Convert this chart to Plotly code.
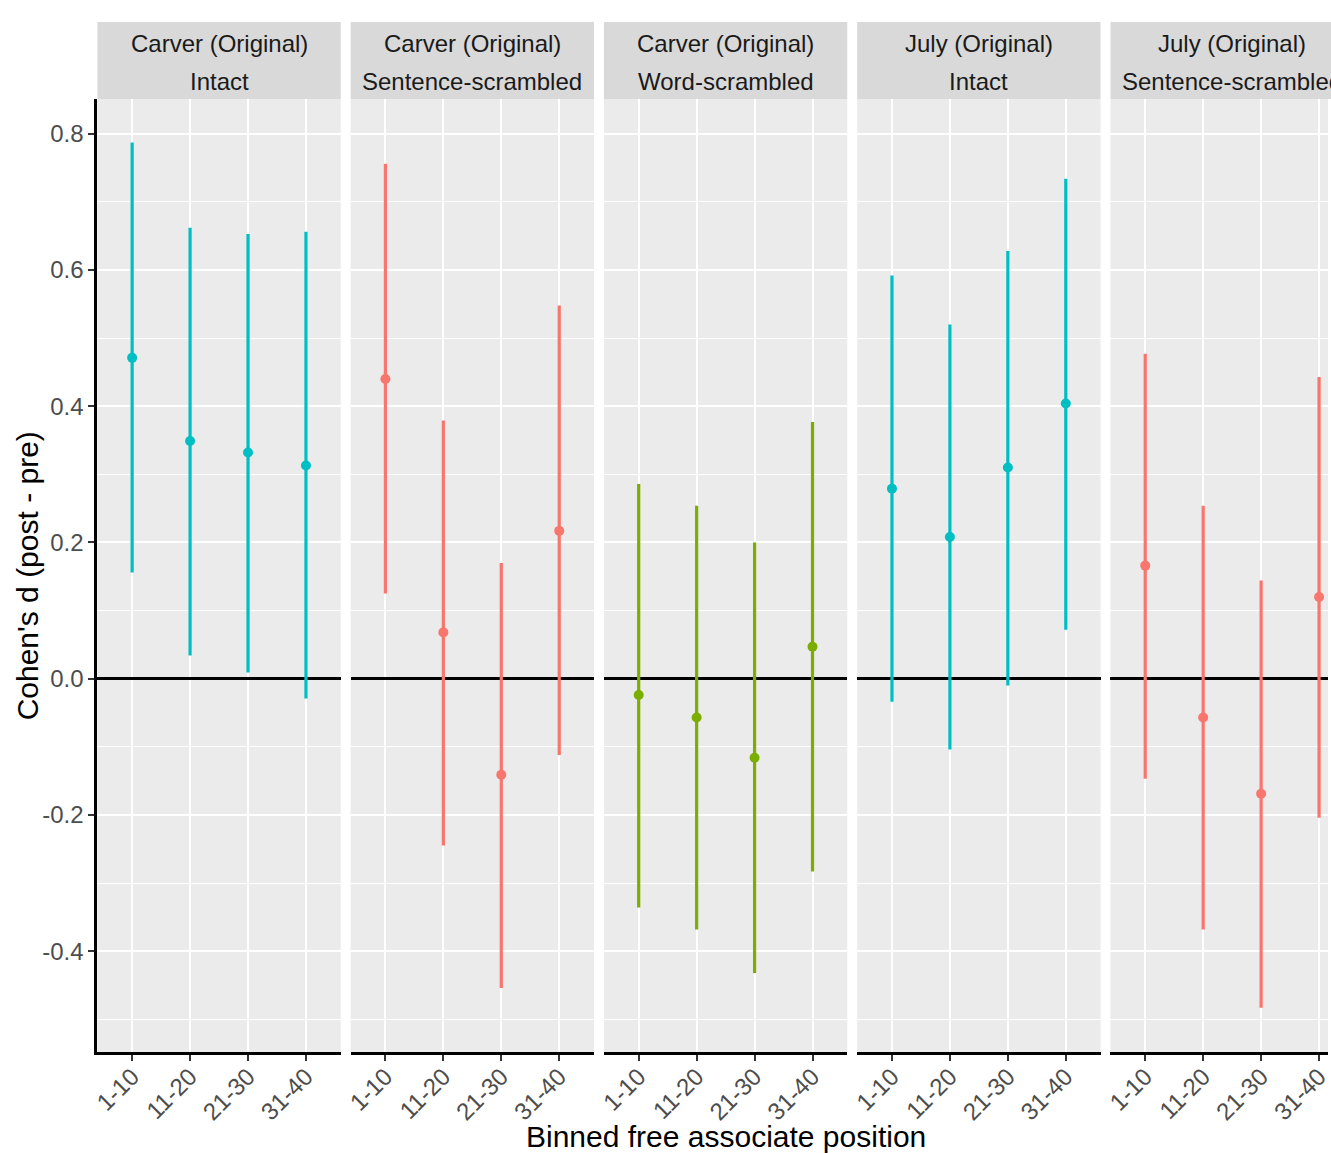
import plotly.graph_objects as go

W, H = 1331, 1153

categories = ["1-10", "11-20", "21-30", "31-40"]
strip_top = ["Carver (Original)", "Carver (Original)", "Carver (Original)", "July (Original)", "July (Original)"]
strip_bottom = ["Intact", "Sentence-scrambled", "Word-scrambled", "Intact", "Sentence-scrambled"]
panel_colors = ["#00BFC4", "#F8766D", "#7CAE00", "#00BFC4", "#F8766D"]

estimate = [
    [0.471, 0.349, 0.332, 0.313],
    [0.440, 0.068, -0.141, 0.217],
    [-0.024, -0.057, -0.116, 0.047],
    [0.279, 0.208, 0.310, 0.404],
    [0.166, -0.057, -0.169, 0.120],
]
upper = [
    [0.787, 0.662, 0.653, 0.656],
    [0.756, 0.379, 0.170, 0.548],
    [0.286, 0.254, 0.200, 0.377],
    [0.592, 0.520, 0.628, 0.734],
    [0.477, 0.254, 0.144, 0.443],
]
lower = [
    [0.156, 0.034, 0.009, -0.029],
    [0.125, -0.245, -0.454, -0.112],
    [-0.336, -0.368, -0.432, -0.283],
    [-0.034, -0.104, -0.010, 0.072],
    [-0.147, -0.368, -0.483, -0.204],
]
y_ticks = [-0.4, -0.2, 0.0, 0.2, 0.4, 0.6, 0.8]
y_tick_text = ["-0.4", "-0.2", "0.0", "0.2", "0.4", "0.6", "0.8"]

FONT = "Liberation Sans, Arial, Helvetica, sans-serif"

# layout geometry (pixels)
left0, pw, gap = 92, 245, 10
top_px, bot_px = 99, 1052
strip_top_px = 22
y_range = [-0.548, 0.851]
x_full = [-0.6, 3.6]

fig = go.Figure()
shapes = []
annotations = []

for i in range(5):
    n = "" if i == 0 else str(i + 1)
    x0p = left0 + i * (pw + gap)
    x1p = x0p + pw
    x1c = min(x1p, W)
    xr = [x_full[0], x_full[0] + (x_full[1] - x_full[0]) * (x1c - x0p) / pw]
    err_plus = [u - e for u, e in zip(upper[i], estimate[i])]
    err_minus = [e - l for e, l in zip(estimate[i], lower[i])]
    fig.add_trace(go.Scatter(
        x=categories, y=estimate[i], mode="markers",
        marker=dict(color=panel_colors[i], size=10),
        error_y=dict(type="data", symmetric=False, array=err_plus, arrayminus=err_minus,
                     color=panel_colors[i], thickness=3.2, width=0),
        xaxis="x" + n, yaxis="y" + n, showlegend=False,
        hoverinfo="x+y", cliponaxis=False,
    ))
    fig.update_layout(**{
        "xaxis" + n: dict(
            domain=[x0p / W, x1c / W], range=xr, type="category",
            categoryorder="array", categoryarray=categories,
            showgrid=True, gridcolor="white", gridwidth=2,
            showline=True, linecolor="black", linewidth=3,
            ticks="outside", ticklen=6, tickcolor="#333333", tickwidth=1.5,
            tickangle=-45, tickfont=dict(family=FONT, size=24, color="#4D4D4D"),
            ticklabelstandoff=-8,
            zeroline=False, anchor="y" + n, fixedrange=True,
        ),
        "yaxis" + n: dict(
            domain=[1 - bot_px / H, 1 - top_px / H], range=y_range,
            tickmode="array", tickvals=y_ticks, ticktext=y_tick_text,
            showgrid=True, gridcolor="white", gridwidth=2,
            minor=dict(tickmode="array", tickvals=[-0.5, -0.3, -0.1, 0.1, 0.3, 0.5, 0.7],
                       showgrid=True, gridcolor="white", gridwidth=1, ticks=""),
            zeroline=True, zerolinecolor="black", zerolinewidth=2.5,
            showline=(i == 0), linecolor="black", linewidth=3,
            ticks="outside" if i == 0 else "", ticklen=6, tickcolor="#333333", tickwidth=1.5,
            showticklabels=(i == 0),
            tickfont=dict(family=FONT, size=24, color="#4D4D4D"),
            anchor="x" + n, fixedrange=True,
            **({} if i == 0 else {"matches": "y"}),
        ),
    })
    # strip background
    shapes.append(dict(type="rect", xref="paper", yref="paper",
                       x0=x0p / W, x1=x1p / W, y0=1 - top_px / H, y1=1 - strip_top_px / H,
                       fillcolor="#D9D9D9", line=dict(width=0), layer="below"))
    cx = (x0p + x1p) / 2 / W
    annotations.append(dict(text=strip_top[i], x=cx, y=1 - 43 / H, xref="paper", yref="paper",
                            xanchor="center", yanchor="middle", showarrow=False,
                            font=dict(family=FONT, size=24, color="#1A1A1A")))
    annotations.append(dict(text=strip_bottom[i], x=cx, y=1 - 81 / H, xref="paper", yref="paper",
                            xanchor="center", yanchor="middle", showarrow=False,
                            font=dict(family=FONT, size=24, color="#1A1A1A")))

# axis titles
annotations.append(dict(text="Binned free associate position", x=724.5 / W, y=1 - 1136 / H,
                        xref="paper", yref="paper", xanchor="center", yanchor="middle",
                        showarrow=False, font=dict(family=FONT, size=30, color="black")))
annotations.append(dict(text="Cohen's d (post - pre)", x=22 / W, y=1 - 575.5 / H,
                        xref="paper", yref="paper", xanchor="center", yanchor="middle",
                        textangle=-90, showarrow=False, font=dict(family=FONT, size=30, color="black")))

fig.update_layout(
    width=W, height=H, autosize=False,
    margin=dict(l=0, r=0, t=0, b=0),
    paper_bgcolor="white", plot_bgcolor="#EBEBEB",
    shapes=shapes, annotations=annotations,
    font=dict(family=FONT),
)

fig.write_html(
    "out.html",
    config={"displayModeBar": False},
    post_script="document.body.style.margin='0';document.body.style.padding='0';"
                "document.body.style.overflow='hidden';document.documentElement.style.overflow='hidden';",
)
